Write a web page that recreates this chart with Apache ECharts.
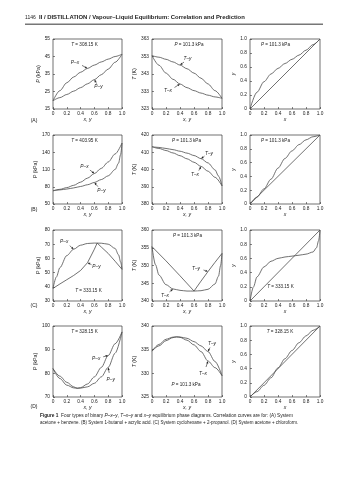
<!DOCTYPE html>
<html><head><meta charset="utf-8">
<script src="https://cdn.jsdelivr.net/npm/echarts@6/dist/echarts.min.js"></script>
<style>html,body{margin:0;padding:0;background:#fff}#c{width:356px;height:480px}</style>
</head><body><div id="c"></div>
<script>
// ---------------- data ----------------
const X_TICKS = [0, 0.2, 0.4, 0.6, 0.8, 1.0];
const UNIT_TICKS = [0, 0.2, 0.4, 0.6, 0.8, 1.0];
const DIAG = [0, 1];

// (A) acetone + benzene
const A_P_TICKS = [15, 25, 35, 45, 55];
const A_T_TICKS = [323, 333, 343, 353, 363];
const A_x  = [0, 0.1, 0.2, 0.3, 0.4, 0.5, 0.6, 0.7, 0.8, 0.9, 1.0];
const A_Px = [19.7, 25.5, 30, 33.3, 36, 38.2, 40.1, 41.9, 43.5, 45, 46.3];
const A_Py = [19.7, 21.5, 23.3, 25.2, 27.2, 29.4, 31.8, 34.6, 37.8, 41.7, 46.3];
const A_Tx = [353.5, 348, 343.5, 340, 337.3, 335.2, 333.5, 332.1, 330.9, 329.9, 329.1];
const A_Ty = [353.5, 352.6, 351.4, 349.9, 348.1, 346, 343.5, 340.6, 337.3, 333.5, 329.1];
const A_yx = [0, 0.24, 0.39, 0.5, 0.58, 0.65, 0.71, 0.77, 0.84, 0.92, 1];

// (B) 1-butanol + acrylic acid
const B_P_TICKS = [50, 80, 110, 140, 170];
const B_T_TICKS = [380, 390, 400, 410, 420];
const B_x  = [0, 0.1, 0.2, 0.3, 0.4, 0.5, 0.6, 0.7, 0.8, 0.9, 1.0];
const B_Px = [73, 75.5, 78.5, 82.5, 88, 95, 103, 112, 123, 137, 156];
const B_yv = [0, 0.1, 0.2, 0.3, 0.4, 0.5, 0.6, 0.7, 0.8, 0.9, 0.95, 0.98, 1.0];
const B_Py = [73, 74.5, 76, 78, 80.5, 83.5, 87.5, 92.5, 99, 110, 121, 136, 156];
const B_Tx = [413.2, 412.2, 411, 409.6, 408, 406.2, 404.2, 401.8, 399, 395.5, 390.5];
const B_Tyv = [0, 0.1, 0.2, 0.3, 0.4, 0.5, 0.6, 0.7, 0.8, 0.9, 0.95, 1.0];
const B_Ty = [413.2, 412.8, 412.2, 411.5, 410.6, 409.5, 408.1, 406.3, 403.8, 399.8, 396.2, 390.5];
const B_yx = [0, 0.1, 0.22, 0.36, 0.52, 0.66, 0.77, 0.86, 0.93, 0.975, 1];

// (C) cyclohexane + 2-propanol
const C_P_TICKS = [30, 40, 50, 60, 70, 80];
const C_T_TICKS = [340, 345, 350, 355, 360];
const C_x  = [0, 0.05, 0.1, 0.2, 0.3, 0.4, 0.5, 0.6, 0.7, 0.8, 0.9, 0.95, 0.98, 1];
const C_Px = [38.9, 47, 53.5, 62, 66.5, 69.3, 70.5, 70.8, 70.7, 70, 67, 62.5, 57.5, 52.3];
const C_yv = [0, 0.1, 0.2, 0.3, 0.4, 0.5, 0.55, 0.6, 0.64, 0.7, 0.8, 0.9, 1];
const C_Py = [38.9, 42, 45, 48, 51.5, 57, 61.7, 66.5, 70.8, 68, 63.5, 58, 52.3];
const C_Tx = [355.3, 350.2, 347.3, 344.6, 343.4, 343, 342.8, 342.8, 342.9, 343.3, 344.8, 347, 350, 353.4];
const C_Tyv = [0, 0.2, 0.4, 0.6, 0.7, 0.8, 0.9, 1];
const C_Ty = [355.3, 351.3, 347.1, 342.8, 345.6, 348.3, 350.9, 353.4];
const C_yx = [0, 0.2, 0.34, 0.48, 0.56, 0.6, 0.62, 0.632, 0.645, 0.66, 0.69, 0.75, 0.85, 1];

// (D) acetone + chloroform
const D_P_TICKS = [70, 80, 90, 100];
const D_T_TICKS = [325, 330, 335, 340];
const D_x  = [0, 0.1, 0.2, 0.3, 0.35, 0.4, 0.5, 0.6, 0.7, 0.8, 0.9, 1.0];
const D_Px = [82, 78.8, 76.2, 74.3, 73.7, 73.95, 75.5, 78.5, 82.5, 87.5, 92.5, 97.5];
const D_Py = [82, 77.8, 75, 73.85, 73.7, 73.75, 74.3, 75.8, 78.5, 82.5, 88.5, 97.5];
const D_Tx = [334.7, 335.8, 336.9, 337.55, 337.7, 337.6, 337, 336, 334.6, 332.6, 331.2, 329.5];
const D_Ty = [334.7, 336.1, 337.2, 337.65, 337.7, 337.68, 337.4, 336.7, 335.8, 334.6, 332.5, 329.5];
const D_yxv = [0, 0.1, 0.2, 0.3, 0.4, 0.5, 0.6, 0.7, 0.8, 0.9, 1];
const D_yx = [0, 0.075, 0.165, 0.27, 0.41, 0.54, 0.655, 0.765, 0.86, 0.94, 1];

// ---------------- layout / style ----------------
const FONT = 'Liberation Sans, Arial, Helvetica, sans-serif';
const INK = '#222';
const CURVE = '#4d4d4d';
const COLS = [[53, 69], [152, 70], [250, 70]];
const ROWS = [[39, 70], [135, 69], [230, 71], [326, 71]];

const zip = (a, b) => a.map((v, i) => [v, b[i]]);
const rich = { i: { fontStyle: 'italic', fontFamily: FONT, fontSize: 5.2, color: INK } };

const panels = [
  { y: A_P_TICKS, yn: '{i|P} (kPa)', xn: 'x, y', s: [[A_x, A_Px], [A_x, A_Py]] },
  { y: A_T_TICKS, yn: '{i|T} (K)', xn: 'x, y', s: [[A_x, A_Ty], [A_x, A_Tx]] },
  { y: UNIT_TICKS, yn: '{i|y}', xn: 'x', s: [[A_x, A_yx], [DIAG, DIAG, 'lin']] },
  { y: B_P_TICKS, yn: '{i|P} (kPa)', xn: 'x, y', s: [[B_x, B_Px], [B_yv, B_Py]] },
  { y: B_T_TICKS, yn: '{i|T} (K)', xn: 'x, y', s: [[B_Tyv, B_Ty], [B_x, B_Tx]] },
  { y: UNIT_TICKS, yn: '{i|y}', xn: 'x', s: [[B_x, B_yx], [DIAG, DIAG, 'lin']] },
  { y: C_P_TICKS, yn: '{i|P} (kPa)', xn: 'x, y', s: [[C_x, C_Px], [C_yv, C_Py, 'lin']] },
  { y: C_T_TICKS, yn: '{i|T} (K)', xn: 'x, y', s: [[C_Tyv, C_Ty, 'lin'], [C_x, C_Tx]] },
  { y: UNIT_TICKS, yn: '{i|y}', xn: 'x', s: [[C_x, C_yx], [DIAG, DIAG, 'lin']] },
  { y: D_P_TICKS, yn: '{i|P} (kPa)', xn: 'x, y', s: [[D_x, D_Px], [D_x, D_Py]] },
  { y: D_T_TICKS, yn: '{i|T} (K)', xn: 'x, y', s: [[D_x, D_Ty], [D_x, D_Tx]] },
  { y: UNIT_TICKS, yn: '{i|y}', xn: 'x', s: [[D_yxv, D_yx], [DIAG, DIAG, 'lin']] }
];

const fmtUnit = v => (v === 0 ? '0' : v.toFixed(1));
const grid = [], xAxis = [], yAxis = [], series = [];
panels.forEach((p, i) => {
  const c = COLS[i % 3], r = ROWS[Math.floor(i / 3)];
  grid.push({ left: c[0], top: r[0], width: c[1], height: r[1], show: true,
    borderColor: '#333', borderWidth: 0.7, backgroundColor: 'transparent' });
  const tickStyle = { show: true, inside: true, length: 2, lineStyle: { color: '#333', width: 0.6 } };
  xAxis.push({ gridIndex: i, type: 'value', min: 0, max: 1,
    name: p.xn, nameLocation: 'middle', nameGap: 8.5,
    nameTextStyle: { fontSize: 5.2, fontStyle: 'italic', color: INK, fontFamily: FONT },
    axisLine: { show: false }, splitLine: { show: false },
    axisTick: Object.assign({ customValues: X_TICKS }, tickStyle),
    axisLabel: { customValues: X_TICKS, fontSize: 4.8, margin: 2.5, color: INK, fontFamily: FONT, formatter: fmtUnit }
  });
  const unit = p.y === UNIT_TICKS;
  yAxis.push({ gridIndex: i, type: 'value', min: p.y[0], max: p.y[p.y.length - 1],
    name: p.yn, nameLocation: 'middle', nameGap: unit ? 11 : 12,
    nameTextStyle: { fontSize: 5.2, color: INK, fontFamily: FONT, rich: rich },
    axisLine: { show: false }, splitLine: { show: false },
    axisTick: Object.assign({ customValues: p.y }, tickStyle),
    axisLabel: { customValues: p.y, fontSize: 4.8, margin: 3, color: INK, fontFamily: FONT,
      formatter: unit ? fmtUnit : (v => String(v)) }
  });
  p.s.forEach(s => {
    series.push({ type: 'line', xAxisIndex: i, yAxisIndex: i, data: zip(s[0], s[1]),
      symbol: 'none', showSymbol: false, silent: true,
      smooth: s[2] === 'lin' ? false : 0.3, smoothMonotone: 'x',
      lineStyle: { color: CURVE, width: 0.8 } });
  });
});

const chart = echarts.init(document.getElementById('c'), null, { renderer: 'canvas' });
chart.setOption({ animation: false, backgroundColor: '#fff', grid, xAxis, yAxis, series });

// ---------------- annotations ----------------
const txt = (x, y, text, size, extra) => ({
  type: 'text', x, y, silent: true,
  style: Object.assign({ text, fontSize: size, fontFamily: FONT, fill: INK,
    align: 'center', verticalAlign: 'middle',
    rich: { i: { fontStyle: 'italic', fontSize: size, fontFamily: FONT, fill: INK },
            b: { fontWeight: 'bold', fontSize: size, fontFamily: FONT, fill: INK } } }, extra || {})
});

const conds = [
  [84.5, 45, '{i|T} = 308.15 K'], [189, 45, '{i|P} = 101.3 kPa'], [275.5, 45, '{i|P} = 101.3 kPa'],
  [84.5, 141, '{i|T} = 403.95 K'], [186.5, 141, '{i|P} = 101.3 kPa'], [275.5, 141, '{i|P} = 101.3 kPa'],
  [88.5, 290.7, '{i|T} = 333.15 K'], [187.5, 235.5, '{i|P} = 101.3 kPa'], [280.5, 287, '{i|T} = 333.15 K'],
  [84.5, 331.5, '{i|T} = 328.15 K'], [186, 384.3, '{i|P} = 101.3 kPa'], [280, 332, '{i|T} = 328.15 K']
];

// arrow notes: grid index, tip data point, label text, label offset, tail offset (px)
const notes = [
  [0, [A_x[5], A_Px[5]], 'P–x', [-12.5, -6], [-5.5, -3]],
  [0, [A_x[6], A_Py[6]], 'P–y', [4, 7.5], [2.2, 4]],
  [1, [A_x[4], A_Ty[4]], 'T–y', [7.5, -6], [4, -3]],
  [1, [A_x[4], A_Tx[4]], 'T–x', [-12, 7], [-5.5, 3.5]],
  [3, [B_x[6], B_Px[6]], 'P–x', [-10, -7], [-4.5, -3.5]],
  [3, [B_yv[6], B_Py[6]], 'P–y', [7, 8], [3.5, 4.2]],
  [4, [B_Tyv[7], B_Ty[7]], 'T–y', [8, -5], [3.5, -2.5]],
  [4, [B_x[7], B_Tx[7]], 'T–x', [-6, 8.5], [-2.2, 4.2]],
  [6, [C_x[4], C_Px[4]], 'P–x', [-9.5, -7.5], [-4, -3.5]],
  [6, [C_yv[5], C_Py[5]], 'P–y', [9, 4.5], [4, 2]],
  [7, [C_Tyv[5], C_Ty[5]], 'T–y', [-12, -3], [-4.5, -1.5]],
  [7, [C_x[4], C_Tx[4]], 'T–x', [-8, 6.5], [-3.5, 3]],
  [9, [D_x[9], D_Px[9]], 'P–x', [-12, 3], [-5, 1.2]],
  [9, [D_x[9], D_Py[9]], 'P–y', [2.5, 12], [1, 5.5]],
  [10, [D_x[9], D_Ty[9]], 'T–y', [4, -8], [2, -4]],
  [10, [D_x[9], D_Tx[9]], 'T–x', [-5, 13], [-2, 6]]
];

const g = [];
conds.forEach(c => g.push(txt(c[0], c[1], c[2], 4.6)));
notes.forEach(n => {
  const tip = chart.convertToPixel({ gridIndex: n[0] }, n[1]);
  const tail = [tip[0] + n[4][0], tip[1] + n[4][1]];
  const dx = tip[0] - tail[0], dy = tip[1] - tail[1];
  const len = Math.hypot(dx, dy), ux = dx / len, uy = dy / len;
  const hl = 2.6, hw = 1.1;
  const base = [tip[0] - ux * hl, tip[1] - uy * hl];
  g.push({ type: 'line', silent: true, shape: { x1: tail[0], y1: tail[1], x2: base[0], y2: base[1] },
    style: { stroke: '#222', lineWidth: 0.6 } });
  g.push({ type: 'polygon', silent: true, shape: { points: [tip,
    [base[0] - uy * hw, base[1] + ux * hw], [base[0] + uy * hw, base[1] - ux * hw]] },
    style: { fill: '#222' } });
  const lab = n[2].split('–');
  g.push(txt(tip[0] + n[3][0], tip[1] + n[3][1], '{i|' + lab[0] + '}–{i|' + lab[1] + '}', 4.8));
});

// header, panel letters, caption
g.push(txt(25, 17.5, '1146', 5, { align: 'left' }));
g.push(txt(39, 17.5, 'II / DISTILLATION / Vapour–Liquid Equilibrium: Correlation and Prediction', 5.9,
  { align: 'left', fontWeight: 'bold' }));
g.push({ type: 'rect', silent: true, shape: { x: 25, y: 23.6, width: 298, height: 1.3 }, style: { fill: '#777' } });
[['(A)', 120.5], ['(B)', 210], ['(C)', 306], ['(D)', 407]].forEach(l => g.push(txt(34, l[1], l[0], 5)));
g.push(txt(40, 415.5, '{b|Figure 1}  Four types of binary {i|P–x–y}, {i|T–x–y} and {i|x–y} equilibrium phase diagrams. Correlation curves are for: (A) System', 4.76, { align: 'left' }));
g.push(txt(40, 422.5, 'acetone + benzene. (B) System 1-butanol + acrylic acid. (C) System cyclohexane + 2-propanol. (D) System acetone + chloroform.', 4.5, { align: 'left' }));

chart.setOption({ graphic: g });
</script></body></html>
